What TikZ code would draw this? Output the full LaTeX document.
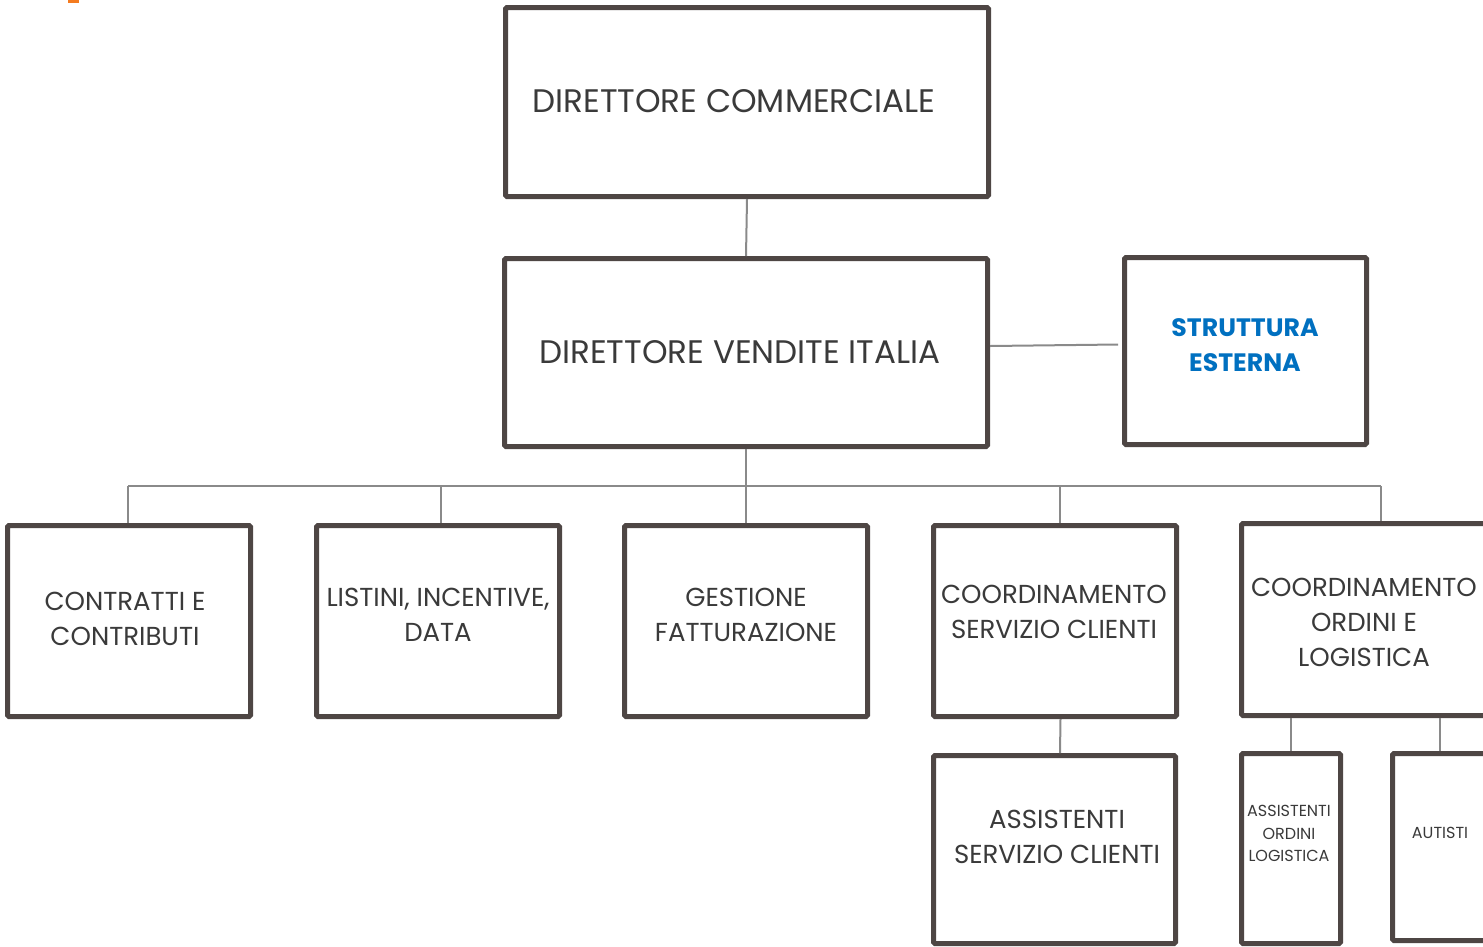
\documentclass[tikz,border=0pt]{standalone}
\usepackage{fontspec}
\setmainfont{Poppins}
\definecolor{boxc}{HTML}{4E4644}
\definecolor{linec}{HTML}{8A8A8A}
\definecolor{txtc}{HTML}{3A3A3A}
\definecolor{blu}{HTML}{0070C0}
\definecolor{orng}{HTML}{F47B20}
\tikzset{
  orgbox/.style={draw=boxc, line width=5pt, rounded corners=1.5pt, inner sep=0pt, fill=white},
  conn/.style={draw=linec, line width=2pt},
  lbl/.style={text=txtc, align=center, inner sep=0pt},
  big/.style={font=\fontsize{32.6}{38}\selectfont},
  mid/.style={font=\fontsize{26}{35}\selectfont},
  small/.style={font=\fontsize{16}{22.5}\selectfont},
}
\begin{document}
\begin{tikzpicture}[x=1pt,y=-1pt]
\useasboundingbox (0,0) rectangle (1483,946);
\clip (0,0) rectangle (1483,946);
\fill[orng] (68,0) rectangle (79,2.5);
% boxes
\node[orgbox, minimum width=483pt, minimum height=189pt] (DC)  at (747,102) {};
\node[orgbox, minimum width=483pt, minimum height=188pt] (DVI) at (746,352.5) {};
\node[orgbox, minimum width=242pt, minimum height=187pt] (SE)  at (1245.5,351) {};
\node[orgbox, minimum width=243pt, minimum height=191pt] (CC)  at (129,621) {};
\node[orgbox, minimum width=243pt, minimum height=191pt] (LID) at (438,621) {};
\node[orgbox, minimum width=243pt, minimum height=191pt] (GF)  at (746,621) {};
\node[orgbox, minimum width=243pt, minimum height=191pt] (CSC) at (1055,621) {};
\node[orgbox, minimum width=245pt, minimum height=192pt] (COL) at (1364,619.5) {};
\node[orgbox, minimum width=242pt, minimum height=188pt] (ASC) at (1054.5,849.5) {};
\node[orgbox, minimum width=99pt, minimum height=190pt] (AOL) at (1291,848.5) {};
\node[orgbox, minimum width=99pt, minimum height=187pt] (AUT) at (1442,847) {};
% connectors
\draw[conn] (DC.south) -- (DVI.north);
\draw[conn] ([yshift=6.5pt]DVI.east) -- ([yshift=6.5pt,xshift=-4pt]SE.west);
\coordinate (bus) at (746,486);
\draw[conn] (DVI.south) -- (bus);
\draw[conn] ([xshift=-1pt]CC.north |- bus) -- ([xshift=17pt]COL.north |- bus);
\draw[conn] ([xshift=-1pt]CC.north) -- ([xshift=-1pt]CC.north |- bus);
\draw[conn] ([xshift=3pt]LID.north) -- ([xshift=3pt]LID.north |- bus);
\draw[conn] (GF.north) -- (GF.north |- bus);
\draw[conn] ([xshift=5pt]CSC.north) -- ([xshift=5pt]CSC.north |- bus);
\draw[conn] ([xshift=17pt]COL.north) -- ([xshift=17pt]COL.north |- bus);
\draw[conn] ([xshift=5.5pt]CSC.south) -- ([xshift=5.5pt]ASC.north);
\draw[conn] (AOL.north) -- (AOL.north |- COL.south);
\draw[conn] ([xshift=-2pt]AUT.north) -- ([xshift=-2pt]AUT.north |- COL.south);
% labels
\node[lbl, big] (tDC) at (734,101) {DIRETTORE COMMERCIALE};
\node[lbl, big] (tDVI) at (740,352) {DIRETTORE VENDITE ITALIA};
\node[lbl, font=\fontsize{25.2}{34.5}\selectfont\bfseries, text=blu] (tSE) at (1245,345) {STRUTTURA\\ESTERNA};
\node[lbl, mid] (tCC) at (125,618.5) {CONTRATTI E\\CONTRIBUTI};
\node[lbl, mid] (tLID) at (438,614.5) {LISTINI, INCENTIVE,\\DATA};
\node[lbl, mid] (tGF) at (746,614.5) {GESTIONE\\FATTURAZIONE};
\node[lbl, mid] (tCSC) at (1054,611.5) {COORDINAMENTO\\SERVIZIO CLIENTI};
\node[lbl, mid] (tCOL) at (1364,622) {COORDINAMENTO\\ORDINI E\\LOGISTICA};
\node[lbl, mid] (tASC) at (1057,836.5) {ASSISTENTI\\SERVIZIO CLIENTI};
\node[lbl, small] (tAOL) at (1289,833.5) {ASSISTENTI\\ORDINI\\LOGISTICA};
\node[lbl, small] (tAUT) at (1440,833) {AUTISTI};
\end{tikzpicture}
\end{document}
